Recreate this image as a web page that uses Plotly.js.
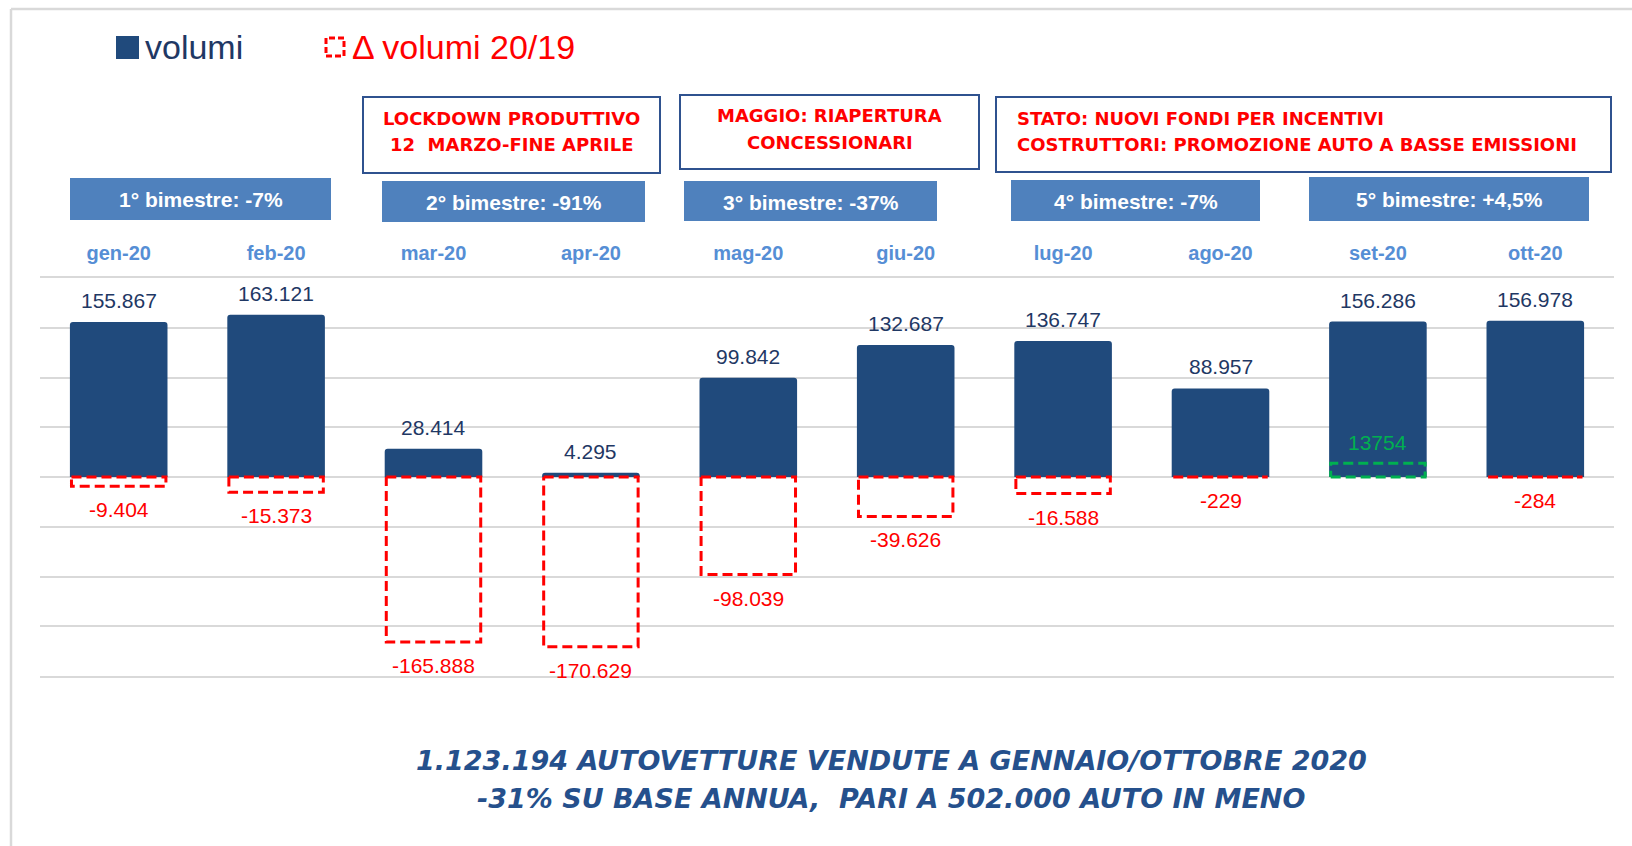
<!DOCTYPE html>
<html>
<head>
<meta charset="utf-8">
<script src="https://cdn.plot.ly/plotly-3.0.1.min.js"></script>
<style>html,body{margin:0;padding:0;background:#fff;}#chart{width:1632px;height:846px;}</style>
</head>
<body>
<div id="chart"></div>
<script>
// ---- data ----
const months = ['gen-20','feb-20','mar-20','apr-20','mag-20','giu-20','lug-20','ago-20','set-20','ott-20'];
const volumi = [155867,163121,28414,4295,99842,132687,136747,88957,156286,156978];
const deltaVolumi = [-9404,-15373,-165888,-170629,-98039,-39626,-16588,-229,13754,-284];
const bimestri = ['1° bimestre: -7%','2° bimestre: -91%','3° bimestre: -37%','4° bimestre: -7%','5° bimestre: +4,5%'];
const noteLockdown = ['LOCKDOWN PRODUTTIVO','12  MARZO-FINE APRILE'];
const noteMaggio = ['MAGGIO: RIAPERTURA','CONCESSIONARI'];
const noteStato = ['STATO: NUOVI FONDI PER INCENTIVI','COSTRUTTORI: PROMOZIONE AUTO A BASSE EMISSIONI'];
const footer = ['1.123.194 AUTOVETTURE VENDUTE A GENNAIO/OTTOBRE 2020','-31% SU BASE ANNUA,  PARI A 502.000 AUTO IN MENO'];
const legendNames = ['volumi','\u0394 volumi 20/19'];

// ---- helpers ----
const W = 1632, H = 846;
const PL = 40, PR = 1614, PT = 278, PB = 676;
const px = x => (x - PL) / (PR - PL);
const py = y => (PB - y) / (PB - PT);
function fmtIt(v){
  const s = Math.abs(v).toString().replace(/\B(?=(\d{3})+(?!\d))/g, '.');
  return (v < 0 ? '-' : '') + s;
}
const FONT = 'Liberation Sans, Arial, sans-serif';
const NOTEFONT = 'DejaVu Sans, sans-serif';
const RED = '#FF0000';
const GREEN = '#00B050';
const GRID = '#D9D9D9';

const xs = months.map((_, i) => i);
const half = 0.3;

// delta boxes as closed dashed outlines
function boxes(filterFn){
  const bx = [], by = [];
  deltaVolumi.forEach((d, i) => {
    if (!filterFn(d)) return;
    bx.push(i - half, i + half, i + half, i - half, i - half, null);
    by.push(0, 0, d, d, 0, null);
  });
  return {x: bx, y: by};
}
const neg = boxes(d => d < 0);
const pos = boxes(d => d > 0);

const traces = [
  {type:'bar', x: xs, y: volumi, width: 0.62, name: legendNames[0],
   marker:{color:'#204A7C', cornerradius: 3, line:{width:0}}, hoverinfo:'skip', showlegend:false},
  {type:'scatter', mode:'lines', x: neg.x, y: neg.y, name: legendNames[1],
   line:{color:RED, width:3, dash:'10px,5px'}, hoverinfo:'skip', showlegend:false, connectgaps:false},
  {type:'scatter', mode:'lines', x: pos.x, y: pos.y,
   line:{color:GREEN, width:3, dash:'10px,5px'}, hoverinfo:'skip', showlegend:false, connectgaps:false}
];

const annotations = [];
const shapes = [];

// value labels
volumi.forEach((v, i) => {
  annotations.push({x: i, y: v, xref:'x', yref:'y', text: fmtIt(v), showarrow:false,
    yanchor:'bottom', yshift: 8, font:{family:FONT, size:21, color:'#1F3864'}});
});
deltaVolumi.forEach((d, i) => {
  if (d < 0) {
    annotations.push({x: i, y: d, xref:'x', yref:'y', text: fmtIt(d), showarrow:false,
      yanchor:'top', yshift: -10, font:{family:FONT, size:21, color:RED}});
  } else {
    annotations.push({x: i, y: d, xref:'x', yref:'y', text: String(d), showarrow:false,
      yanchor:'bottom', yshift: 7, font:{family:FONT, size:21, color:GREEN}});
  }
});

// bimestre boxes
const bimBoxes = [[70,331,178,220],[382,645,181,222],[684,937,181,221],[1011,1260,180,221],[1309,1589,177,221]];
bimestri.forEach((t, k) => {
  const b = bimBoxes[k];
  shapes.push({type:'rect', xref:'paper', yref:'paper', x0:px(b[0]), x1:px(b[1]), y0:py(b[3]), y1:py(b[2]),
    fillcolor:'#4F81BD', line:{width:0}, layer:'above'});
  annotations.push({xref:'paper', yref:'paper', x:px((b[0]+b[1])/2), y:py((b[2]+b[3])/2 + 1),
    text:t, showarrow:false, xanchor:'center', yanchor:'middle',
    font:{family:FONT, size:21, color:'#FFFFFF', weight:'bold'}});
});

// note boxes
const noteBoxes = [
  {b:[363,660,97,173], lines:noteLockdown, align:'center', ys:[118,145]},
  {b:[680,979,95,169], lines:noteMaggio, align:'center', ys:[116,142]},
  {b:[996,1611,97,172], lines:noteStato, align:'left', ys:[118,145], x:1015}
];
noteBoxes.forEach(n => {
  const b = n.b;
  shapes.push({type:'rect', xref:'paper', yref:'paper', x0:px(b[0]), x1:px(b[1]), y0:py(b[3]), y1:py(b[2]),
    fillcolor:'#FFFFFF', line:{color:'#2F528F', width:2}, layer:'above'});
  n.lines.forEach((t, j) => {
    annotations.push({xref:'paper', yref:'paper',
      x: n.align === 'left' ? px(n.x) : px((b[0]+b[1])/2), y: py(n.ys[j]),
      xanchor: n.align === 'left' ? 'left' : 'center', yanchor:'middle',
      text:t, showarrow:false, font:{family:NOTEFONT, size:18, color:RED, weight:'bold'}});
  });
});

// legend (custom)
shapes.push({type:'rect', xref:'paper', yref:'paper', x0:px(116), x1:px(139), y0:py(59), y1:py(36),
  fillcolor:'#204A7C', line:{width:0}});
shapes.push({type:'rect', xref:'paper', yref:'paper', x0:px(326), x1:px(344), y0:py(56), y1:py(38),
  fillcolor:'rgba(0,0,0,0)', line:{color:RED, width:3, dash:'6px,3px'}});
annotations.push({xref:'paper', yref:'paper', x:px(143), y:py(47), xanchor:'left', yanchor:'middle',
  text:legendNames[0], showarrow:false, font:{family:FONT, size:34, color:'#1F3864'}});
annotations.push({xref:'paper', yref:'paper', x:px(350), y:py(47), xanchor:'left', yanchor:'middle',
  text:legendNames[1], showarrow:false, font:{family:FONT, size:34, color:RED}});

// footer
const footerYs = [760, 798];
footer.forEach((t, j) => {
  annotations.push({xref:'paper', yref:'paper', x:px(891), y:py(footerYs[j]), xanchor:'center', yanchor:'middle',
    text:'<i>'+t+'</i>', showarrow:false, font:{family:NOTEFONT, size:27, color:'#25508C', weight:'bold'}});
});

// outer frame (left + top)
shapes.push({type:'line', xref:'paper', yref:'paper', x0:px(11), x1:px(11), y0:py(9), y1:py(H+5),
  line:{color:GRID, width:2.5}});
shapes.push({type:'line', xref:'paper', yref:'paper', x0:px(11), x1:px(W+5), y0:py(9), y1:py(9),
  line:{color:GRID, width:2.5}});

const boundaries = months.map((_, i) => i - 0.5).concat([months.length - 0.5]);
const yTicks = [-200000,-150000,-100000,-50000,0,50000,100000,150000,200000];

const layout = {
  width: W, height: H,
  margin: {l: PL, r: W - PR, t: PT, b: H - PB, pad: 0},
  paper_bgcolor:'#FFFFFF', plot_bgcolor:'#FFFFFF',
  barmode:'overlay',
  showlegend:false,
  xaxis: {range:[-0.5, 9.5], tickmode:'array', tickvals: xs, ticktext: months, side:'top',
    ticks:'', showgrid:false, zeroline:false, showline:true, mirror:true, linecolor:GRID, linewidth:2,
    ticklabelstandoff: 8, fixedrange:true,
    tickfont:{family:FONT, size:20, color:'#558ED5', weight:'bold'}},
  xaxis2: {overlaying:'x', anchor:'free', position:0.5, range:[-0.5, 9.5], tickmode:'array',
    tickvals: boundaries, ticks:'outside', ticklen:5, tickwidth:2, tickcolor:GRID,
    showticklabels:false, showgrid:false, zeroline:false, showline:false, fixedrange:true},
  yaxis: {range:[-200000, 200000], tickmode:'array', tickvals: yTicks, showticklabels:false,
    showgrid:true, gridcolor:GRID, gridwidth:2, zeroline:false, showline:false, ticks:'', fixedrange:true},
  annotations: annotations,
  shapes: shapes,
  font:{family:FONT}
};

Plotly.newPlot('chart', traces, layout, {displayModeBar:false, staticPlot:true});
</script>
</body>
</html>
